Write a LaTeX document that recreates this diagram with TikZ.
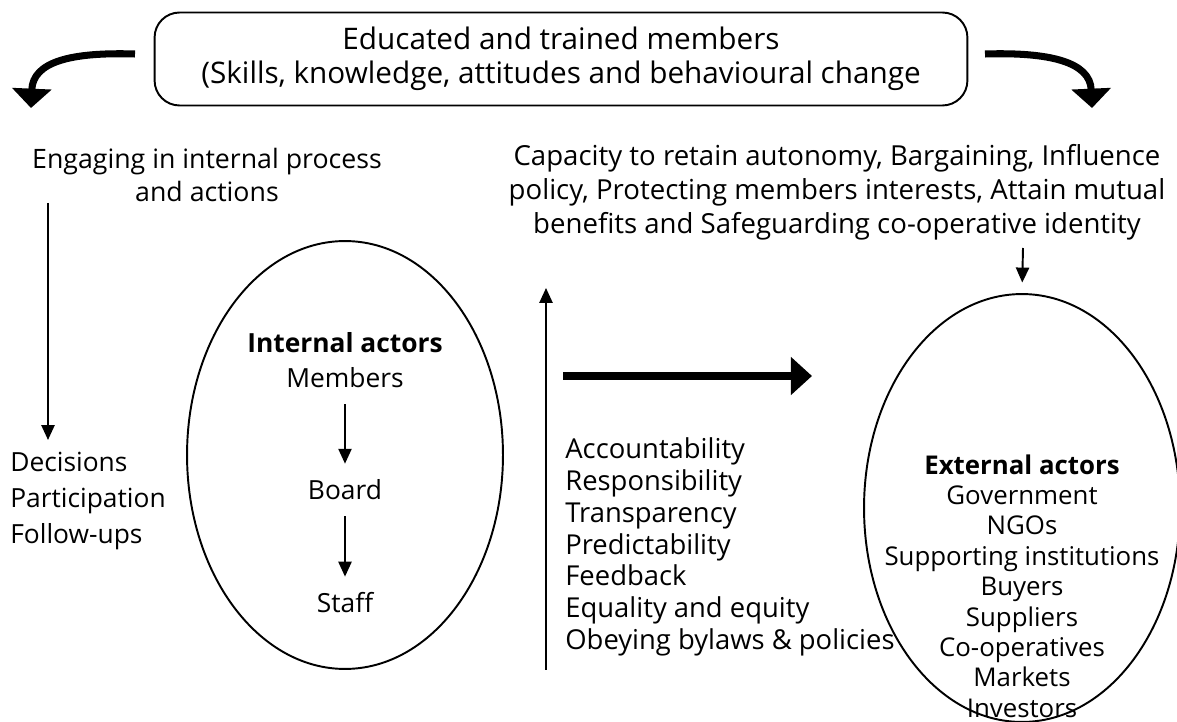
\documentclass[tikz,border=0pt]{standalone}
\usepackage{fontspec}
\setmainfont{Open Sans}
\usetikzlibrary{arrows.meta, positioning, shapes.geometric}

\begin{document}
\begin{tikzpicture}[x=0.02cm, y=-0.02cm, font=\fontsize{15}{18}\selectfont,
  every node/.style={inner sep=0pt},
  actor/.style={draw, ellipse, line width=1.1pt, minimum width=6.32cm, minimum height=8.56cm},
  flow/.style={-{Triangle[length=8.5pt, width=7.5pt]}, line width=1.1pt},
  swing/.style={-{Triangle[length=11pt, width=22pt]}, line width=4pt},
  push/.style={-{Triangle[length=12pt, width=21pt]}, line width=4.5pt}]
\useasboundingbox (0,0) rectangle (1177,722);
% headline box and the two curved arrows from it
\node[draw, line width=1.1pt, rounded corners=0.5cm, minimum width=16.26cm, minimum height=1.86cm,
  align=center, font=\fontsize{16.9}{19.3}\selectfont] (edu) at (561,59)
  {Educated and trained members\\(Skills, knowledge, attitudes and behavioural change};
\coordinate (lft0) at (135,54);
\coordinate (lft1) at (31,108);
\coordinate (rgt0) at (985,54);
\coordinate (rgt1) at (1092,108);
\draw[swing] (lft0) .. controls (70,52) and (33,62) .. (lft1);
\draw[swing] (rgt0) .. controls (1050,52) and (1090,62) .. (rgt1);
% the two outcomes
\node[align=center, font=\fontsize{15.2}{19.3}\selectfont] (eng) at (207,175)
  {Engaging in internal process\\and actions};
\node[align=center, font=\fontsize{15.7}{19.3}\selectfont] (cap) at (837,192)
  {Capacity to retain autonomy, Bargaining, Influence\\policy, Protecting members interests, Attain mutual\\benefits and Safeguarding co-operative identity};
% left column
\coordinate (dn0) at (48,203);
\coordinate (dn1) at (48,440);
\draw[flow] (dn0) -- (dn1);
\node[align=left, anchor=west, font=\fontsize{15}{20.4}\selectfont] (acts) at (10,501)
  {Decisions\\Participation\\Follow-ups};
% internal actors
\node[actor] (intl) at (345,455) {};
\node[font=\fontsize{15}{18}\bfseries] (ia) at (345,343) {Internal actors};
\node (mem) at (345,378) {Members};
\node (brd) at (345,490) {Board};
\node (stf) at (345,603) {Staff};
\draw[flow, shorten <=9pt, shorten >=9pt] (mem) -- (brd);
\draw[flow, shorten <=9pt, shorten >=9pt] (brd) -- (stf);
% principles in the middle
\coordinate (up0) at (546,670);
\coordinate (up1) at (546,288);
\draw[flow] (up0) -- (up1);
\coordinate (rt0) at (563,376);
\coordinate (rt1) at (812,376);
\draw[push] (rt0) -- (rt1);
\node[align=left, anchor=west, font=\fontsize{15.6}{18.1}\selectfont] (vals) at (565,547)
  {Accountability\\Responsibility\\Transparency\\Predictability\\Feedback\\Equality and equity\\Obeying bylaws \& policies};
% external actors
\node[actor] (extl) at (1022,508) {};
\coordinate (cp0) at (1023,248);
\draw[flow, shorten >=6pt] (cp0) -- (extl.north);
\node[align=center, font=\fontsize{14.7}{17.3}\selectfont] (ext) at (1022,586)
  {\textbf{External actors}\\Government\\NGOs\\Supporting institutions\\Buyers\\Suppliers\\Co-operatives\\Markets\\Investors};
\end{tikzpicture}
\end{document}
